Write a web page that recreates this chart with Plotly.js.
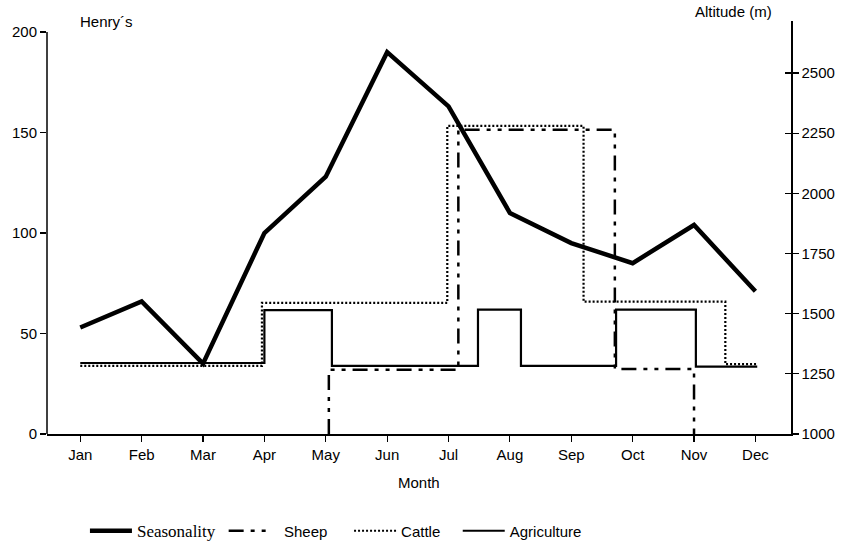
<!DOCTYPE html>
<html>
<head>
<meta charset="utf-8">
<script src="https://cdn.plot.ly/plotly-3.0.1.min.js"></script>
<style>html,body{margin:0;padding:0;background:#fff;}#chart{width:841px;height:546px;}</style>
</head>
<body>
<div id="chart"></div>
<script>
// Month categories
const months = ["Jan","Feb","Mar","Apr","May","Jun","Jul","Aug","Sep","Oct","Nov","Dec"];
const monthPos = [1,2,3,4,5,6,7,8,9,10,11,12];

// Seasonality (Henry's index, left axis)
const seasonality = [53, 66, 35, 100, 128, 190, 163, 110, 95, 85, 104, 71];

// Step series (altitude, right axis): breakpoints in month units
const sheepX = [5.05, 5.05, 7.16, 9.71, 11.0, 11.0];
const sheepY = [1000, 1267, 2264, 1270, 1270, 1000];

const cattleX = [1, 3.96, 6.98, 9.2, 11.51, 12.03];
const cattleY = [1283, 1545, 2280, 1550, 1290, 1290];

const agriX = [1, 4.0, 5.1, 7.48, 8.18, 9.73, 11.03, 12.03];
const agriY = [1295, 1515, 1283, 1517, 1283, 1517, 1280, 1280];

const leftTicks = [0, 50, 100, 150, 200];
const rightTicks = [1000, 1250, 1500, 1750, 2000, 2250, 2500];

const FONT = "Liberation Sans, Arial, Helvetica, sans-serif";
const NB = "\u00A0";

const traces = [
  {x: agriX, y: agriY, yaxis: "y2", mode: "lines", line: {shape: "hv", color: "#000", width: 2.2},
   name: "Agriculture", legendrank: 4},
  {x: cattleX, y: cattleY, yaxis: "y2", mode: "lines", line: {shape: "hv", color: "#000", width: 2.2, dash: "2px,2px"},
   name: "Cattle" + NB.repeat(3), legendrank: 3},
  {x: sheepX, y: sheepY, yaxis: "y2", mode: "lines", line: {shape: "hv", color: "#000", width: 2.5, dash: "15px,7px,4px,7px,4px,7px"},
   name: NB.repeat(2) + "Sheep" + NB.repeat(4), legendrank: 2},
  {x: monthPos, y: seasonality, yaxis: "y", mode: "lines", line: {color: "#000", width: 4.5},
   name: "Seasonality" + NB, legendrank: 1}
];

const layout = {
  width: 841, height: 546,
  margin: {l: 47, r: 50, t: 21, b: 112},
  paper_bgcolor: "#fff", plot_bgcolor: "#fff",
  font: {family: FONT, size: 15, color: "#000"},
  showlegend: true,
  legend: {orientation: "h", xref: "container", yref: "container", x: 0.101, xanchor: "left",
           y: 0.0275, yanchor: "middle",
           font: {family: FONT, size: 15, color: "#000"}, itemwidth: 42, bgcolor: "rgba(0,0,0,0)"},
  xaxis: {range: [0.458, 12.58], tickvals: monthPos, ticktext: months, showgrid: false, zeroline: false,
          showline: true, linecolor: "#000", linewidth: 1.5, ticks: "outside", ticklen: 6, tickwidth: 1.2,
          tickcolor: "#000", tickfont: {size: 15}},
  yaxis: {range: [0, 205.5], tickvals: leftTicks, showgrid: false, zeroline: false, showline: false,
          ticks: "outside", ticklen: 6, tickwidth: 1.2, tickcolor: "#000", tickfont: {size: 15}},
  yaxis2: {range: [1000, 2716], tickvals: rightTicks, overlaying: "y", side: "right", anchor: "x",
           showgrid: false, zeroline: false, showline: true, linecolor: "#000", linewidth: 1.5,
           ticks: "outside", ticklen: 6, tickwidth: 1.2, tickcolor: "#000", tickfont: {size: 15}},
  yaxis3: {range: [1000, 2716], tickvals: rightTicks, overlaying: "y", side: "right", anchor: "x",
           showgrid: false, zeroline: false, showline: false, showticklabels: false,
           ticks: "inside", ticklen: 6, tickwidth: 1.2, tickcolor: "#000"},
  shapes: [
    {type: "line", xref: "paper", yref: "y", x0: 0, x1: 0, y0: 0, y1: 200, line: {color: "#000", width: 1.5}}
  ],
  annotations: [
    {text: "Henry\u00B4s", xref: "paper", yref: "paper", x: 0.042, y: 1.0, xanchor: "left", yanchor: "middle",
     showarrow: false, font: {size: 15}},
    {text: "Altitude (m)", xref: "paper", yref: "paper", x: 0.977, y: 1.022, xanchor: "right", yanchor: "middle",
     showarrow: false, font: {size: 15}},
    {text: "Month", xref: "paper", yref: "paper", x: 0.5, y: -0.1186, xanchor: "center", yanchor: "middle",
     showarrow: false, font: {size: 15}}
  ]
};

traces.push({x: [], y: [], yaxis: "y3", mode: "lines", showlegend: false, hoverinfo: "skip"});

Plotly.newPlot("chart", traces, layout, {displayModeBar: false, staticPlot: true}).then(function (gd) {
  // Seasonality legend label is set in a serif face, as in the original figure
  var texts = gd.querySelectorAll(".legend .legendtext");
  texts.forEach(function (t) {
    if (t.textContent.indexOf("Seasonality") === 0) {
      t.style.fontFamily = "'Liberation Serif', 'Times New Roman', serif";
      t.style.fontSize = "17px";
    }
  });
});
</script>
</body>
</html>
